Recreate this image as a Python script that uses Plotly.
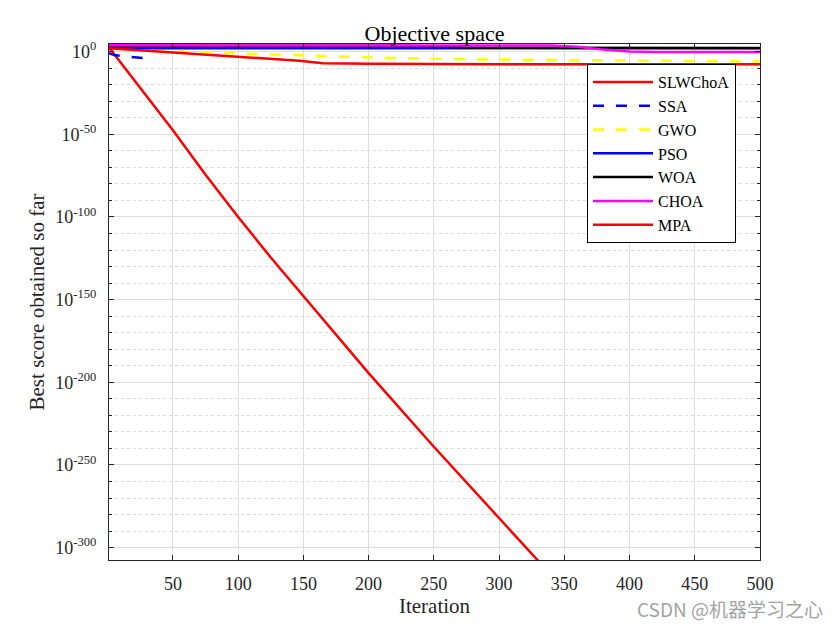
import plotly.graph_objects as go

# ---- data (y values are best scores) ----
slw_x = [1, 25, 50, 75, 100, 125, 150, 175, 200, 250, 300, 330]
slw_y = [3e2, 1e-22, 3e-48, 3e-75, 1e-100, 3e-125, 1e-148, 1e-171, 3.2e-195, 1e-239, 1e-282, 1e-308]

ssa_x = [1, 5, 12, 20, 30, 36]
ssa_y = [1e-1, 1e-2, 1.6e-3, 3.2e-4, 7.9e-5, 4.0e-5]

gwo_x = [1, 30, 71, 147, 200, 224, 300, 400, 500]
gwo_y = [3e2, 1e1, 0.4, 6.3e-3, 4.0e-4, 1e-4, 1.6e-5, 3.2e-6, 1e-6]

pso_x = [1, 100, 200, 300, 400, 500]
pso_y = [126, 126, 126, 126, 126, 126]

woa_x = [1, 230, 280, 350, 500]
woa_y = [4.0e3, 4.0e3, 200, 158, 158]

choa_x = [1, 200, 340, 360, 380, 400, 420, 500]
choa_y = [6.3e3, 6.3e3, 5.0e3, 1e3, 15.8, 1.0, 0.63, 0.5]

mpa_x = [1, 30, 59, 70, 110, 147, 165, 200, 300, 400, 500]
mpa_y = [1e2, 3.16, 6.3e-2, 1.26e-2, 1.6e-4, 2.5e-6, 1e-7, 4.0e-8, 2.5e-8, 2.0e-8, 2.0e-8]

names = ["SLWChoA", "SSA", "GWO", "PSO", "WOA", "CHOA", "MPA"]
x_ticks = [50, 100, 150, 200, 250, 300, 350, 400, 450, 500]
y_exps = [0, -50, -100, -150, -200, -250, -300]
y_minor_exps = [e for e in range(-10, -310, -10) if e % 50 != 0]

series = [
    (slw_x, slw_y, "#ff0000", "solid"),
    (ssa_x, ssa_y, "#0000ff", "11px,12px"),
    (gwo_x, gwo_y, "#ffff00", "11px,12px"),
    (pso_x, pso_y, "#0000ff", "solid"),
    (woa_x, woa_y, "#000000", "solid"),
    (choa_x, choa_y, "#ff00ff", "solid"),
    (mpa_x, mpa_y, "#ff0000", "solid"),
]

fig = go.Figure()
for name, (xs, ys, col, dash) in zip(names, series):
    fig.add_trace(go.Scatter(x=xs, y=ys, mode="lines", name=name,
                             line=dict(color=col, width=2.5, dash=dash)))

FONT = "Liberation Serif"
W, H = 832, 622  # page body adds an 8px offset
fig.update_layout(
    width=W, height=H,
    margin=dict(l=101, r=80, t=36, b=70),
    paper_bgcolor="white", plot_bgcolor="white",
    font=dict(family=FONT, size=18, color="#262626"),
    title=dict(text="Objective space", x=(434.5 - 8) / W, xanchor="center",
               y=(H - 25) / H, yanchor="middle", yref="container",
               font=dict(family=FONT, size=22, color="black")),
    showlegend=True,
    legend=dict(x=(587 - 109) / 651, y=(560 - 64) / 516, xanchor="left", yanchor="top",
                bgcolor="white", bordercolor="black", borderwidth=1,
                font=dict(family=FONT, size=16, color="black"),
                itemwidth=60, tracegroupgap=0),
)
fig.update_xaxes(
    range=[1, 500], tickvals=x_ticks,
    showline=True, linecolor="#262626", linewidth=1, mirror="ticks",
    ticks="inside", ticklen=5, tickcolor="#262626",
    showgrid=True, gridcolor="#dedede", gridwidth=1, zeroline=False,
    ticklabelstandoff=7,
    title=dict(text="Iteration", font=dict(family=FONT, size=21, color="#262626"), standoff=5),
)
fig.update_yaxes(
    type="log", range=[-307.5, 4.6],
    tickmode="array",
    tickvals=[10.0 ** e for e in y_exps],
    ticktext=["10<sup>%d</sup>" % e for e in y_exps],
    showline=True, linecolor="#262626", linewidth=1, mirror="ticks",
    ticks="inside", ticklen=5, tickcolor="#262626",
    showgrid=True, gridcolor="#dedede", gridwidth=1, zeroline=False,
    ticklabelstandoff=8,
    minor=dict(tickmode="array", tickvals=[10.0 ** e for e in y_minor_exps],
               ticks="inside", ticklen=3, tickcolor="#262626",
               showgrid=True, gridcolor="#dadada", griddash="3px,3px", gridwidth=1),
    title=dict(text="Best score obtained so far", font=dict(family=FONT, size=21, color="#262626"), standoff=4),
)
fig.add_annotation(text="CSDN @机器学习之心", xref="paper", yref="paper",
                   x=(825 - 109) / 651, y=(560 - 608) / 516, xanchor="right", yanchor="middle",
                   showarrow=False, font=dict(family="Noto Sans CJK SC", size=19, color="#a3a3a3"))

fig.write_html("out.html")
